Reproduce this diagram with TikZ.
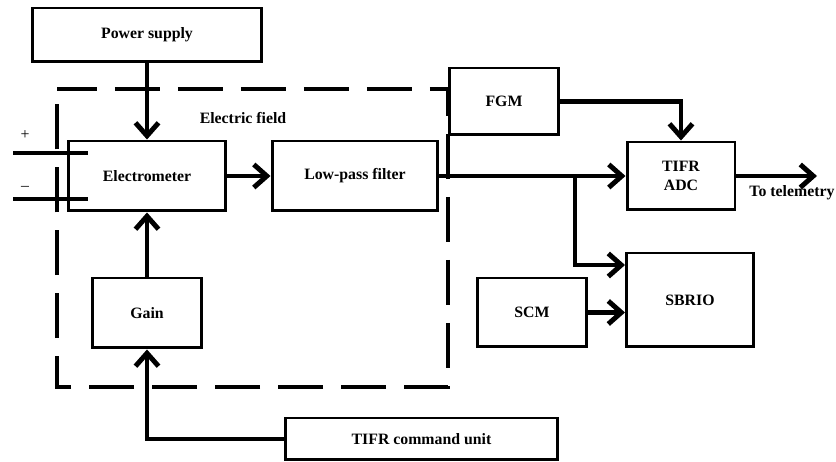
\documentclass[tikz,border=0pt]{standalone}
\usepackage{fontspec}
\setmainfont{Liberation Serif}
\usetikzlibrary{arrows.meta}
\tikzset{
  field block/.style={
    rectangle, draw=black, fill=white, line width=1.7pt,
    font=\fontsize{9}{10.5}\selectfont\bfseries, align=center, inner sep=2pt
  },
  field line/.style={draw=black, line width=2.8pt},
  field arrow/.style={
    field line,
    -{Straight Barb[length=2.6mm,width=4.6mm,line width=2.8pt]}
  },
  field border/.style={
    draw=black, line width=2.8pt, dash pattern=on 0.9cm off 0.36cm, dash phase=0.1cm
  },
  field label/.style={font=\fontsize{9}{10.5}\selectfont\bfseries, inner sep=0pt},
  field sign/.style={font=\fontsize{9}{10.5}\selectfont, inner sep=0pt}
}
\begin{document}
\begin{tikzpicture}[x=0.02cm,y=-0.02cm]
  \useasboundingbox (0,0) rectangle (836,462);

  % sensor region
  \draw[field border] (57,89) -- (448,89) -- (448,387) -- (57,387) -- cycle;
  \node[field label] (fieldlabel) at (243,118) {Electric field};

  \node[field block,minimum width=4.6cm,minimum height=1.08cm] (power) at (147,35) {Power supply};
  \node[field block,minimum width=3.16cm,minimum height=1.4cm] (elec) at (147,176) {Electrometer};
  \node[field block,minimum width=3.32cm,minimum height=1.4cm] (lpf) at (355,176) {Low-pass filter};
  \node[field block,minimum width=2.2cm,minimum height=1.4cm] (gain) at (147,313) {Gain};
  \node[field block,minimum width=5.46cm,minimum height=0.84cm] (cmd) at (421.5,439) {TIFR command unit};
  \node[field block,minimum width=2.2cm,minimum height=1.34cm] (fgm) at (504,101.5) {FGM};
  \node[field block,minimum width=2.16cm,minimum height=1.36cm] (adc) at (681,176) {TIFR\\ADC};
  \node[field block,minimum width=2.54cm,minimum height=1.88cm] (sbrio) at (690,300) {SBRIO};
  \node[field block,minimum width=2.2cm,minimum height=1.38cm] (scm) at (532,312.5) {SCM};

  % plates
  \draw[field line] (13,153) -- (88,153);
  \draw[field line] (13,199) -- (88,199);
  \node[field sign] (plus) at (25,135) {+};
  \node[field sign] (minus) at (25,188) {\textendash};

  \coordinate (split) at (575,176);
  \coordinate (telemetry) at (817,176);

  \draw[field arrow] (power.south) -- (elec.north);
  \draw[field arrow] (elec.east) -- (lpf.west);
  \draw[field arrow] (gain.north) -- (elec.south);
  \draw[field arrow] (cmd.west) -| (gain.south);
  \draw[field arrow] (lpf.east) -- (adc.west);
  \draw[field arrow] (split) |- ([yshift=0.7cm]sbrio.west);
  \draw[field arrow] (fgm.east) -| (adc.north);
  \draw[field arrow] (scm.east) -- (scm.east -| sbrio.west);
  \draw[field arrow] (adc.east) -- (telemetry);
  \node[field label] (tolabel) at (792,193) {To telemetry};
\end{tikzpicture}
\end{document}
